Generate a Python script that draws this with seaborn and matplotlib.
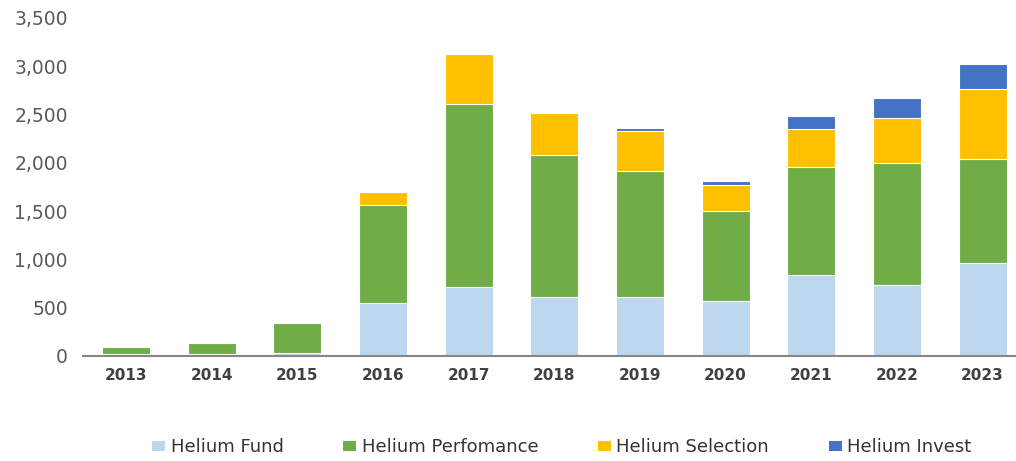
import matplotlib
matplotlib.use("Agg")
import matplotlib.pyplot as plt
from matplotlib.patches import Patch
from matplotlib.ticker import FuncFormatter
import seaborn as sns
import numpy as np
import pandas as pd

years = ["2013", "2014", "2015", "2016", "2017", "2018", "2019", "2020", "2021", "2022", "2023"]
fund = [20, 25, 28, 546, 711, 608, 608, 566, 835, 732, 960]
perfomance = [70, 106, 314, 1018, 1895, 1477, 1311, 939, 1125, 1270, 1083]
selection = [0, 0, 0, 131, 521, 435, 414, 269, 394, 459, 725]
invest = [0, 0, 0, 0, 0, 0, 25, 41, 128, 207, 252]

series_names = ["Helium Fund", "Helium Perfomance", "Helium Selection", "Helium Invest"]
colors = ["#BDD7EE", "#70AD47", "#FFC000", "#4472C4"]

sns.set_theme(style="white")
plt.rcParams["font.family"] = ["DejaVu Sans"]

fig = plt.figure(figsize=(10.16, 4.61), dpi=100)
ax = fig.add_axes([0.0817, 0.2278, 0.9183, 0.7332])

layers = [fund, perfomance, selection, invest]
cum = np.cumsum(np.array(layers, dtype=float), axis=0)
df = pd.DataFrame({"year": years})
for i in range(len(layers) - 1, -1, -1):
    df["v"] = cum[i]
    sns.barplot(data=df, x="year", y="v", color=colors[i], width=0.56,
                edgecolor="white", linewidth=0.8, saturation=1, ax=ax)

ax.set_xlim(-0.5, 10.39)
ax.set_ylim(0, 3500)
ax.set_yticks(np.arange(0, 3501, 500))
ax.yaxis.set_major_formatter(FuncFormatter(lambda v, p: f"{int(v):,}"))
ax.set_xlabel("")
ax.set_ylabel("")
for s in ["top", "right", "left"]:
    ax.spines[s].set_visible(False)
ax.spines["bottom"].set_color("#868686")
ax.spines["bottom"].set_linewidth(1.5)
ax.tick_params(axis="y", length=0, labelsize=13.5, labelcolor="#595959", pad=11)
ax.tick_params(axis="x", length=0, labelsize=11, labelcolor="#404040", pad=9)
for t in ax.get_xticklabels():
    t.set_fontweight("semibold")
ax.grid(False)

handles = [Patch(facecolor=c, edgecolor="none", label=n) for c, n in zip(colors, series_names)]
fig.legend(handles=handles, loc="center", bbox_to_anchor=(0.553, 0.03), ncol=4,
           frameon=False, fontsize=13, handlelength=0.72, handleheight=0.5,
           handletextpad=0.3, columnspacing=3.3, labelcolor="#333333")

fig.savefig("out.png", dpi=100)
